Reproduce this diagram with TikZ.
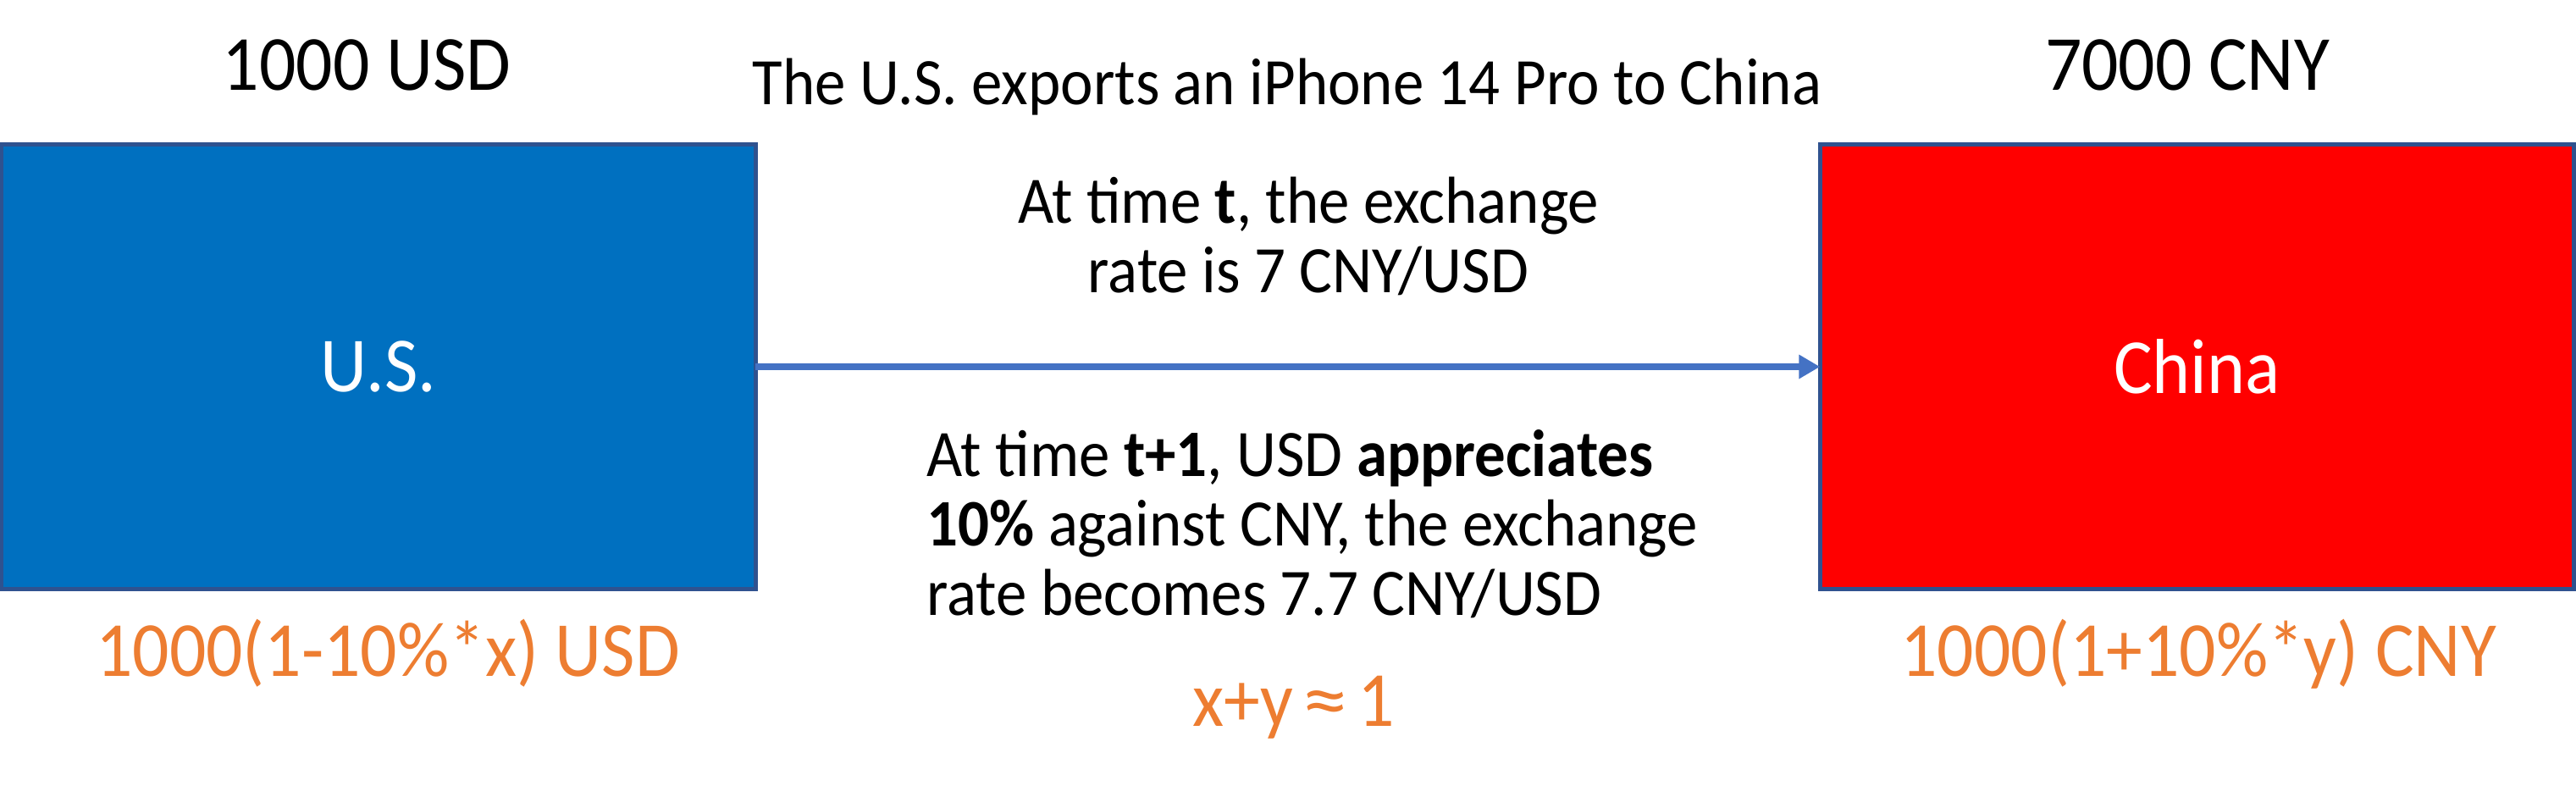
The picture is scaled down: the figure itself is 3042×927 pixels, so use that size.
\documentclass[tikz,border=0pt]{standalone}
\usepackage{fontspec}
\setmainfont[FakeStretch=0.93]{Carlito}
\usetikzlibrary{arrows.meta}
\definecolor{usblue}{HTML}{0070C0}
\definecolor{cnred}{HTML}{FF0000}
\definecolor{edgeblue}{HTML}{2F528F}
\definecolor{arrowblue}{HTML}{4472C4}
\definecolor{accent}{HTML}{ED7D31}
\tikzset{
  country/.style={draw=edgeblue, line width=1.4pt, minimum width=8.9cm, minimum height=5.25cm,
    inner sep=0pt, outer sep=0pt, text=white, font=\fontsize{26.2}{30}\selectfont},
  amount/.style={anchor=base, font=\fontsize{26.2}{30}\selectfont},
  note/.style={font=\fontsize{22.3}{23.3}\selectfont},
}
\begin{document}
\begin{tikzpicture}[x=0.01cm,y=-0.01cm]
\useasboundingbox (0,0) rectangle (3042,927);
% the two countries
\node[country, fill=usblue] (us) at (447,433) {U.S.};
\node[country, fill=cnred] (cn) at (2594.5,433) {China};
\draw[arrowblue, line width=2pt, -{Triangle[length=7.1pt,width=7.7pt]}] (us.east) -- (cn.west);
% prices
\node[amount] (usd) at (433,106) {1000 USD};
\node[amount] (cny) at (2583,106) {7000 CNY};
\node[amount, text=accent] (usdx) at (458,798) {1000(1-10\%*x) USD};
\node[amount, text=accent] (cnyy) at (2596,798) {1000(1+10\%*y) CNY};
% notes (base = last line)
\node[note, anchor=base] (title) at (1520,123) {The U.S. exports an iPhone 14 Pro to China};
\node[note, anchor=base, align=center] (ratet) at (1545,345)
  {At time \textbf{t}, the exchange\\rate is 7 CNY/USD};
\node[note, anchor=base west, align=left] (ratet1) at (1082,726)
  {At time \textbf{t+1}, USD \textbf{appreciates}\\\textbf{10\%} against CNY, the exchange\\rate becomes 7.7 CNY/USD};
\node[note, anchor=base, text=accent, font=\fontsize{26.2}{30}\selectfont] (sum) at (1528,857)
  {x+y\kern3pt\scalebox{1.3}[1]{≈}\kern3pt1};
\end{tikzpicture}
\end{document}
